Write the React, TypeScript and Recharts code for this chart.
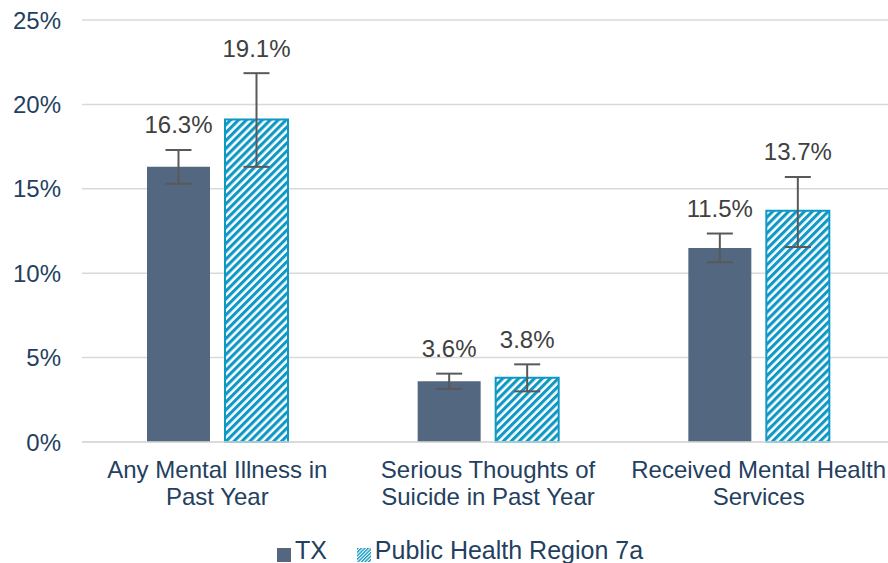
import React from 'react';
import { BarChart, Bar, XAxis, YAxis, CartesianGrid, Legend, ErrorBar, LabelList } from 'recharts';

const categories = [
  'Any Mental Illness in\nPast Year',
  'Serious Thoughts of\nSuicide in Past Year',
  'Received Mental Health\nServices',
];
const txValues = [16.3, 3.6, 11.5];
const regionValues = [19.1, 3.8, 13.7];
// [below, above] error amounts
const txErrors = [[1.0, 1.0], [0.45, 0.45], [0.85, 0.85]];
const regionErrors = [[2.8, 2.75], [0.8, 0.8], [2.15, 2.0]];
const yTicks = [0, 5, 10, 15, 20, 25];

const data = categories.map((name, i) => ({
  name,
  tx: txValues[i],
  region: regionValues[i],
  txErr: txErrors[i],
  regionErr: regionErrors[i],
}));

const NAVY = '#243f60';
const TX_COLOR = '#536880';
const REGION_COLOR = '#0f98c4';
const FONT = '"Liberation Sans", Arial, sans-serif';

const CategoryTick = ({ x, y, payload }: any) => {
  const lines = String(payload.value).split('\n');
  return (
    <text x={x} y={y} textAnchor="middle" fill={NAVY} fontSize={24} fontFamily={FONT}>
      {lines.map((line, i) => (
        <tspan key={i} x={x} dy={i === 0 ? 28 : 27}>
          {line}
        </tspan>
      ))}
    </text>
  );
};

// value label sits above the top whisker
const makeLabel = (errs: number[][]) => (props: any) => {
  const { x, y, width, height, value, index } = props;
  const pxPerUnit = height / value;
  const top = y - errs[index][1] * pxPerUnit;
  return (
    <text
      x={x + width / 2}
      y={top - 25}
      textAnchor="middle"
      dominantBaseline="central"
      fill="#404040"
      fontSize={24}
      fontFamily={FONT}
    >
      {`${value.toFixed(1)}%`}
    </text>
  );
};

export default function App() {
  return (
    <div style={{ width: 888, height: 563, background: '#fff', overflow: 'hidden' }}>
      <style>{`body{margin:0}`}</style>
      <BarChart
        width={894}
        height={563}
        data={data}
        margin={{ top: 20, right: 0, left: 0, bottom: 0 }}
        barSize={63}
        barGap={15}
      >
        <defs>
          <pattern
            id="hatch"
            patternUnits="userSpaceOnUse"
            width={5.6}
            height={5.6}
            patternTransform="rotate(45)"
          >
            <rect width={5.6} height={5.6} fill="#ffffff" />
            <rect width={3.1} height={5.6} fill={REGION_COLOR} />
          </pattern>
        </defs>
        <CartesianGrid vertical={false} stroke="#d9d9d9" strokeWidth={1.5} />
        <XAxis
          dataKey="name"
          tick={<CategoryTick />}
          tickLine={false}
          axisLine={{ stroke: '#d9d9d9', strokeWidth: 1.5 }}
          height={94}
          interval={0}
        />
        <YAxis
          domain={[0, 25]}
          ticks={yTicks}
          tickFormatter={(v: number) => `${v}%`}
          tick={{ fill: NAVY, fontSize: 24, fontFamily: FONT }}
          tickLine={false}
          axisLine={false}
          tickSize={0}
          tickMargin={21}
          width={82}
        />
        <Legend
          verticalAlign="bottom"
          height={27}
          iconType="square"
          iconSize={14}
          itemSorter={(item: any) => (item.value === 'TX' ? 0 : 1)}
          wrapperStyle={{ paddingLeft: 18 }}
          formatter={(value: string) => (
            <span
              style={{
                color: NAVY,
                fontSize: 25,
                fontFamily: FONT,
                paddingRight: value === 'TX' ? 20 : 0,
              }}
            >
              {value}
            </span>
          )}
        />
        <Bar dataKey="tx" name="TX" fill={TX_COLOR} isAnimationActive={false}>
          <ErrorBar dataKey="txErr" width={13} stroke="#595959" strokeWidth={2} />
          <LabelList dataKey="tx" content={makeLabel(txErrors)} />
        </Bar>
        <Bar
          dataKey="region"
          name="Public Health Region 7a"
          fill="url(#hatch)"
          stroke={REGION_COLOR}
          strokeWidth={2}
          isAnimationActive={false}
        >
          <ErrorBar dataKey="regionErr" width={13} stroke="#595959" strokeWidth={2} />
          <LabelList dataKey="region" content={makeLabel(regionErrors)} />
        </Bar>
      </BarChart>
    </div>
  );
}
